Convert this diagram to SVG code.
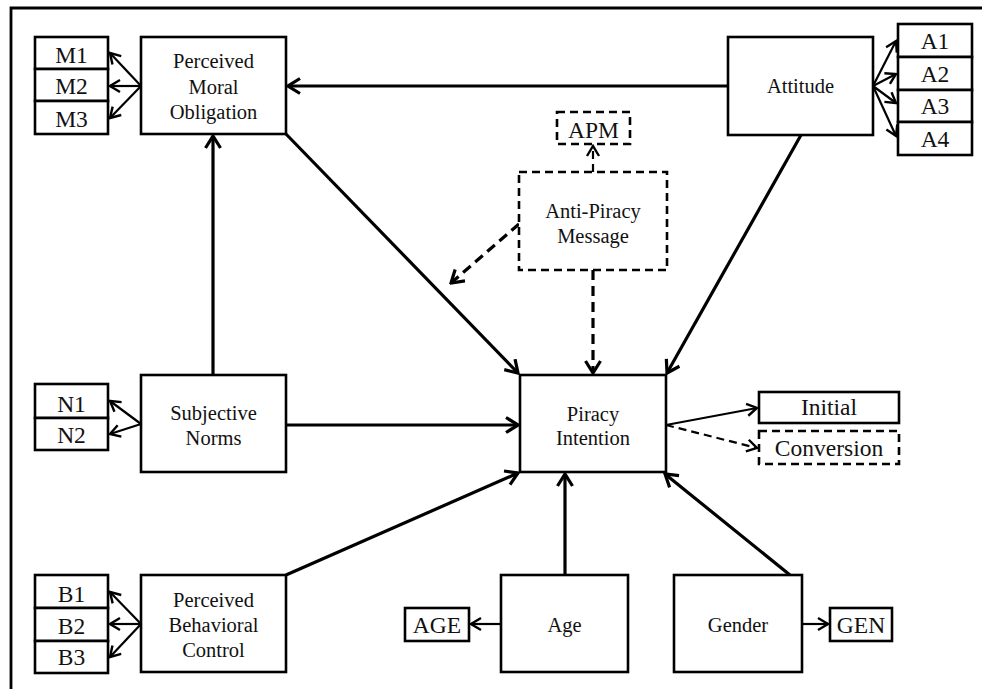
<svg xmlns="http://www.w3.org/2000/svg" width="982" height="689" viewBox="0 0 982 689">
<style>
text{font-family:"Liberation Serif","Times New Roman",serif;fill:#111;text-anchor:middle}
.n{font-size:20.5px}
.i{font-size:23.5px}
.box{fill:#fff;stroke:#000;stroke-width:2.6}
.dbox{fill:#fff;stroke:#000;stroke-width:2.6;stroke-dasharray:8 5}
.thick{stroke:#000;stroke-width:3.2;fill:none}
.thin{stroke:#000;stroke-width:2.2;fill:none}
.dash{stroke:#000;stroke-width:3.2;fill:none;stroke-dasharray:10 6}
.dthin{stroke:#000;stroke-width:2.2;fill:none;stroke-dasharray:8 5}
</style>
<defs>
<marker id="ah" markerUnits="userSpaceOnUse" viewBox="-14 -9 16 18" refX="0" refY="0" markerWidth="16" markerHeight="18" orient="auto">
<path d="M-12,-7.5 L0,0 L-12,7.5" fill="none" stroke="#000" stroke-width="3.2"/>
</marker>
<marker id="as" markerUnits="userSpaceOnUse" viewBox="-12 -8 14 16" refX="0" refY="0" markerWidth="14" markerHeight="16" orient="auto">
<path d="M-10,-6 L0,0 L-10,6" fill="none" stroke="#000" stroke-width="2.4"/>
</marker>
</defs>
<rect width="982" height="689" fill="#fff"/>
<path d="M11,689 V8 H982" fill="none" stroke="#000" stroke-width="2.8"/>

<g id="connectors">
<line class="thick" x1="728" y1="86" x2="288" y2="86" marker-end="url(#ah)"/>
<line class="thick" x1="286" y1="134" x2="518" y2="373" marker-end="url(#ah)"/>
<line class="thick" x1="801" y1="135" x2="667" y2="373" marker-end="url(#ah)"/>
<line class="dash" x1="593" y1="270" x2="593" y2="373" marker-end="url(#ah)"/>
<line class="dash" x1="519" y1="224" x2="451" y2="283" marker-end="url(#ah)"/>
<line class="dthin" x1="593" y1="172" x2="593" y2="146" marker-end="url(#as)"/>
<line class="thick" x1="213" y1="375" x2="213" y2="136" marker-end="url(#ah)"/>
<line class="thick" x1="286" y1="425" x2="518" y2="425" marker-end="url(#ah)"/>
<line class="thick" x1="286" y1="575" x2="518" y2="473" marker-end="url(#ah)"/>
<line class="thick" x1="565" y1="575" x2="565" y2="474" marker-end="url(#ah)"/>
<line class="thick" x1="790" y1="575" x2="665" y2="474" marker-end="url(#ah)"/>
<line class="thin" x1="666" y1="425" x2="757" y2="408" marker-end="url(#as)"/>
<line class="dthin" x1="666" y1="425" x2="757" y2="448" marker-end="url(#as)"/>
<line class="thin" x1="501" y1="624" x2="471" y2="624" marker-end="url(#as)"/>
<line class="thin" x1="802" y1="624" x2="828" y2="624" marker-end="url(#as)"/>
<line class="thin" x1="141" y1="86" x2="110" y2="53" marker-end="url(#as)"/>
<line class="thin" x1="141" y1="86" x2="110" y2="86" marker-end="url(#as)"/>
<line class="thin" x1="141" y1="86" x2="110" y2="118" marker-end="url(#as)"/>
<line class="thin" x1="873" y1="86" x2="896" y2="41" marker-end="url(#as)"/>
<line class="thin" x1="873" y1="86" x2="896" y2="74" marker-end="url(#as)"/>
<line class="thin" x1="873" y1="86" x2="896" y2="103" marker-end="url(#as)"/>
<line class="thin" x1="873" y1="86" x2="896" y2="136" marker-end="url(#as)"/>
<line class="thin" x1="141" y1="424" x2="110" y2="401" marker-end="url(#as)"/>
<line class="thin" x1="141" y1="424" x2="110" y2="434" marker-end="url(#as)"/>
<line class="thin" x1="141" y1="624" x2="110" y2="592" marker-end="url(#as)"/>
<line class="thin" x1="141" y1="624" x2="110" y2="624" marker-end="url(#as)"/>
<line class="thin" x1="141" y1="624" x2="110" y2="657" marker-end="url(#as)"/>
</g>

<g id="pmo"><rect class="box" x="141" y="37" width="145" height="97"/>
<text class="n" x="213.5" y="68">Perceived</text><text class="n" x="213.5" y="94">Moral</text><text class="n" x="213.5" y="119">Obligation</text></g>
<g id="m1"><rect class="box" x="35" y="37" width="73" height="32"/><text class="i" x="71.5" y="63">M1</text></g>
<g id="m2"><rect class="box" x="35" y="69" width="73" height="32"/><text class="i" x="71.5" y="94">M2</text></g>
<g id="m3"><rect class="box" x="35" y="101" width="73" height="33"/><text class="i" x="71.5" y="127">M3</text></g>

<g id="attitude"><rect class="box" x="728" y="37" width="145" height="98"/><text class="n" x="800.5" y="93">Attitude</text></g>
<g id="a1"><rect class="box" x="898" y="24" width="74" height="33"/><text class="i" x="935" y="49">A1</text></g>
<g id="a2"><rect class="box" x="898" y="57" width="74" height="33"/><text class="i" x="935" y="82">A2</text></g>
<g id="a3"><rect class="box" x="898" y="90" width="74" height="32"/><text class="i" x="935" y="114">A3</text></g>
<g id="a4"><rect class="box" x="898" y="122" width="74" height="33"/><text class="i" x="935" y="147">A4</text></g>

<g id="apm"><rect class="dbox" x="557" y="112" width="73" height="32"/><text class="i" x="593.5" y="138">APM</text></g>
<g id="antipiracy"><rect class="dbox" x="519" y="172" width="148" height="98"/>
<text class="n" x="593" y="218">Anti-Piracy</text><text class="n" x="593" y="243">Message</text></g>

<g id="piracy"><rect class="box" x="520" y="375" width="146" height="97"/>
<text class="n" x="593" y="421">Piracy</text><text class="n" x="593" y="445">Intention</text></g>
<g id="initial"><rect class="box" x="759" y="392" width="140" height="31"/><text class="i" x="829" y="415">Initial</text></g>
<g id="conversion"><rect class="dbox" x="759" y="431" width="140" height="33"/><text class="i" x="829" y="456">Conversion</text></g>

<g id="sn"><rect class="box" x="141" y="375" width="145" height="97"/>
<text class="n" x="213.5" y="420">Subjective</text><text class="n" x="213.5" y="445">Norms</text></g>
<g id="n1"><rect class="box" x="35" y="384" width="73" height="34"/><text class="i" x="71.5" y="412">N1</text></g>
<g id="n2"><rect class="box" x="35" y="418" width="73" height="32"/><text class="i" x="71.5" y="443">N2</text></g>

<g id="pbc"><rect class="box" x="141" y="575" width="145" height="97"/>
<text class="n" x="213.5" y="607">Perceived</text><text class="n" x="213.5" y="632">Behavioral</text><text class="n" x="213.5" y="657">Control</text></g>
<g id="b1"><rect class="box" x="35" y="575" width="73" height="33"/><text class="i" x="71.5" y="602">B1</text></g>
<g id="b2"><rect class="box" x="35" y="608" width="73" height="33"/><text class="i" x="71.5" y="634">B2</text></g>
<g id="b3"><rect class="box" x="35" y="641" width="73" height="32"/><text class="i" x="71.5" y="665">B3</text></g>

<g id="age"><rect class="box" x="501" y="575" width="127" height="97"/><text class="n" x="564.5" y="632">Age</text></g>
<g id="agebox"><rect class="box" x="405" y="608" width="64" height="33"/><text class="i" x="437" y="633">AGE</text></g>
<g id="gender"><rect class="box" x="674" y="575" width="128" height="97"/><text class="n" x="738" y="632">Gender</text></g>
<g id="gen"><rect class="box" x="830" y="608" width="62" height="33"/><text class="i" x="861" y="633">GEN</text></g>
</svg>
